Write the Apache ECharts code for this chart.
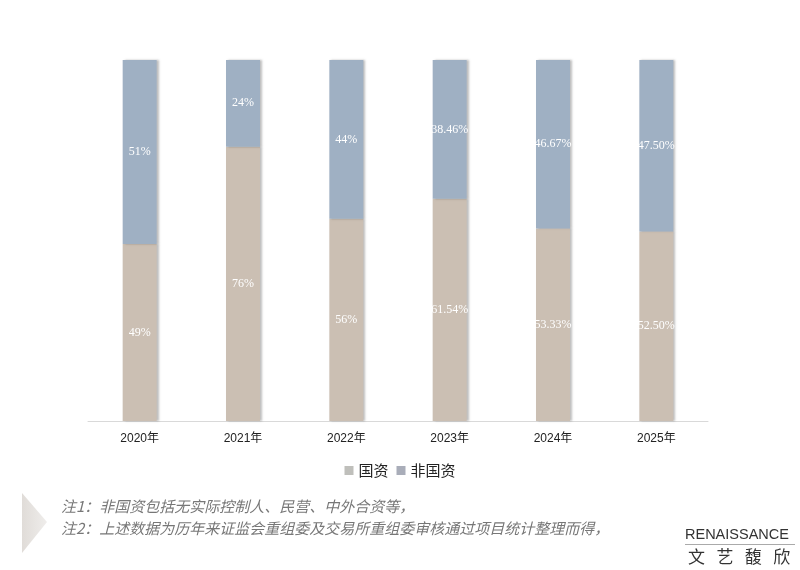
<!DOCTYPE html>
<html><head><meta charset="utf-8">
<script src="https://cdn.jsdelivr.net/npm/echarts@6/dist/echarts.min.js"></script>
<style>html,body{margin:0;padding:0;background:#fff}#c{width:800px;height:570px}</style>
</head><body><div id="c"></div>
<script>
const categories = ['2020年','2021年','2022年','2023年','2024年','2025年'];
const stateOwned = [49, 76, 56, 61.54, 53.33, 52.50];
const nonStateOwned = [51, 24, 44, 38.46, 46.67, 47.50];
const stateLabels = ['49%','76%','56%','61.54%','53.33%','52.50%'];
const nonStateLabels = ['51%','24%','44%','38.46%','46.67%','47.50%'];
const seriesNames = ['国资','非国资'];
const notes = ['注1：非国资包括无实际控制人、民营、中外合资等，','注2：上述数据为历年来证监会重组委及交易所重组委审核通过项目统计整理而得，'];

const chart = echarts.init(document.getElementById('c'));
const labelStyle = (texts) => ({
  show: true, position: 'inside', color: '#ffffff',
  fontFamily: 'Liberation Serif, serif', fontSize: 12,
  formatter: p => texts[p.dataIndex]
});
const barShadow = {shadowColor:'rgba(0,0,0,0.25)', shadowOffsetX:2, shadowBlur:2};
chart.setOption({
  animation: false,
  grid: {left: 88, right: 92, top: 60, bottom: 149},
  legend: {
    data: [
      {name: seriesNames[0], itemStyle:{color:'#bfbfbb'}},
      {name: seriesNames[1], itemStyle:{color:'#a9adb9'}}
    ],
    top: 458, left: 'center',
    itemWidth: 9, itemHeight: 9, itemGap: 8,
    textStyle: {color:'#222', fontSize: 15, fontFamily:'Noto Sans CJK SC'},
    icon: 'rect'
  },
  xAxis: {
    type: 'category', data: categories,
    axisLine: {lineStyle:{color:'#d9d9d9'}}, axisTick:{show:false},
    axisLabel: {color:'#222', fontSize: 12, margin: 12, fontFamily:'Liberation Sans, Noto Sans CJK SC'}
  },
  yAxis: {type:'value', min:0, max:100, show:false, splitLine:{show:false}},
  series: [
    {name: seriesNames[0], type:'bar', stack:'s', barWidth: 34, data: stateOwned,
     itemStyle: Object.assign({color:'#cbbfb3'}, barShadow), label: labelStyle(stateLabels)},
    {name: seriesNames[1], type:'bar', stack:'s', barWidth: 34, data: nonStateOwned,
     itemStyle: Object.assign({color:'#9fb0c3'}, barShadow), label: labelStyle(nonStateLabels)}
  ],
  graphic: [
    {type:'polygon', shape:{points:[[22,493],[47,522],[22,553]]},
     style:{fill:{type:'linear',x:0,y:0,x2:1,y2:0,colorStops:[{offset:0,color:'#e0dcd8'},{offset:1,color:'#efedeb'}]}}},
    {type:'text', left: 61, top: 499, style:{text: notes[0], fill:'#777', font:'italic 15px "Noto Sans CJK SC"'}},
    {type:'text', left: 61, top: 521, style:{text: notes[1], fill:'#777', font:'italic 15px "Noto Sans CJK SC"'}},
    {type:'text', left: 685, top: 527, style:{text:'RENAISSANCE', fill:'#333', font:'14.5px "Liberation Sans"'}},
    {type:'rect', shape:{x:685,y:544,width:110,height:1}, style:{fill:'#aaa'}},
    {type:'text', left: 688, top: 548, style:{text:'文   艺   馥   欣', fill:'#333', font:'17px "Noto Sans CJK SC"'}}
  ]
});
</script></body></html>
